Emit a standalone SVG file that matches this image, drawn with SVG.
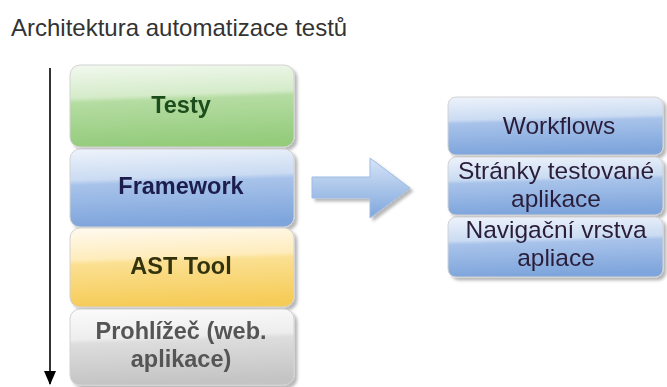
<svg xmlns="http://www.w3.org/2000/svg" width="667" height="387" viewBox="0 0 667 387">
  <style>
    .title { font-family: "Liberation Sans", Arial, sans-serif; font-size: 24px; fill: #333333; }
    .lbl { font-family: "Liberation Sans", Arial, sans-serif; font-size: 23.5px; font-weight: bold; text-anchor: middle; }
    .rlbl { font-family: "Liberation Sans", Arial, sans-serif; font-size: 24.5px; fill: #2b1f3a; text-anchor: middle; }
    .box { stroke: #d2d2d2; stroke-width: 1; }
  </style>
  <defs>
    <!-- glossy two-tone fills: pale upper half, saturated lower half -->
    <linearGradient id="gGreen" x1="0" y1="0" x2="0.1" y2="1">
      <stop offset="0" stop-color="#f2f9ef"/>
      <stop offset="0.40" stop-color="#d4ebc9"/>
      <stop offset="0.46" stop-color="#b5dca2"/>
      <stop offset="1" stop-color="#94cc7c"/>
    </linearGradient>
    <linearGradient id="gBlue" x1="0" y1="0" x2="0.1" y2="1">
      <stop offset="0" stop-color="#eef3fb"/>
      <stop offset="0.40" stop-color="#cadbf2"/>
      <stop offset="0.46" stop-color="#a8c3ea"/>
      <stop offset="1" stop-color="#7ea5dc"/>
    </linearGradient>
    <linearGradient id="gYellow" x1="0" y1="0" x2="0.1" y2="1">
      <stop offset="0" stop-color="#fffaf0"/>
      <stop offset="0.40" stop-color="#feecbc"/>
      <stop offset="0.46" stop-color="#fbe092"/>
      <stop offset="1" stop-color="#f6cc58"/>
    </linearGradient>
    <linearGradient id="gGray" x1="0" y1="0" x2="0.1" y2="1">
      <stop offset="0" stop-color="#fbfbfb"/>
      <stop offset="0.40" stop-color="#ededed"/>
      <stop offset="0.46" stop-color="#dddddd"/>
      <stop offset="1" stop-color="#c4c4c4"/>
    </linearGradient>
    <linearGradient id="gArrow" x1="0" y1="0" x2="0" y2="1">
      <stop offset="0" stop-color="#d6e4f7"/>
      <stop offset="1" stop-color="#7fa6dc"/>
    </linearGradient>
    <filter id="shadow" x="-10%" y="-10%" width="125%" height="130%">
      <feGaussianBlur in="SourceAlpha" stdDeviation="1.5"/>
      <feOffset dx="3" dy="3" result="b"/>
      <feFlood flood-color="#000000" flood-opacity="0.28"/>
      <feComposite in2="b" operator="in"/>
      <feMerge>
        <feMergeNode/>
        <feMergeNode in="SourceGraphic"/>
      </feMerge>
    </filter>
    <marker id="head" viewBox="0 0 14 12" refX="13" refY="6" markerWidth="14" markerHeight="12" markerUnits="userSpaceOnUse" orient="auto">
      <path d="M0,0 L14,6 L0,12 Z" fill="#000000"/>
    </marker>
  </defs>

  <text class="title" x="11" y="36">Architektura automatizace testů</text>

  <!-- left layer stack -->
  <g id="testy" filter="url(#shadow)">
    <rect class="box" x="70" y="65" width="224" height="82" rx="10" fill="url(#gGreen)"/>
    <text class="lbl" x="181" y="113" fill="#1d4d1d">Testy</text>
  </g>
  <g id="framework" filter="url(#shadow)">
    <rect class="box" x="70" y="149" width="224" height="78" rx="10" fill="url(#gBlue)"/>
    <text class="lbl" x="181" y="194" fill="#1c1f4d">Framework</text>
  </g>
  <g id="ast-tool" filter="url(#shadow)">
    <rect class="box" x="70" y="228" width="224" height="79" rx="10" fill="url(#gYellow)"/>
    <text class="lbl" x="181" y="274" fill="#33330f">AST Tool</text>
  </g>
  <g id="prohlizec" filter="url(#shadow)">
    <rect class="box" x="70" y="309" width="224" height="76" rx="10" fill="url(#gGray)"/>
    <text class="lbl" x="181" y="339" fill="#555555">Prohlížeč (web.</text>
    <text class="lbl" x="181" y="367" fill="#555555">aplikace)</text>
  </g>

  <!-- right layer stack -->
  <g id="workflows" filter="url(#shadow)">
    <rect class="box" x="448" y="97" width="215" height="58" rx="8" fill="url(#gBlue)"/>
    <text class="rlbl" x="559" y="134">Workflows</text>
  </g>
  <g id="stranky" filter="url(#shadow)">
    <rect class="box" x="448" y="157" width="215" height="58" rx="8" fill="url(#gBlue)"/>
    <text class="rlbl" x="556" y="179">Stránky testované</text>
    <text class="rlbl" x="556" y="207">aplikace</text>
  </g>
  <g id="navigace" filter="url(#shadow)">
    <rect class="box" x="448" y="217" width="215" height="60" rx="8" fill="url(#gBlue)"/>
    <text class="rlbl" x="556" y="238">Navigační vrstva</text>
    <text class="rlbl" x="556" y="266">apliace</text>
  </g>

  <g id="connectors">
    <!-- downward flow arrow -->
    <line x1="50" y1="68" x2="50" y2="384" stroke="#000000" stroke-width="1.6" marker-end="url(#head)"/>
    <!-- block arrow between stacks -->
    <polygon points="312,177 370,177 370,158 410,188 370,218 370,198 312,198" fill="url(#gArrow)" stroke="#9dbbe6" stroke-width="1" filter="url(#shadow)"/>
  </g>
</svg>
